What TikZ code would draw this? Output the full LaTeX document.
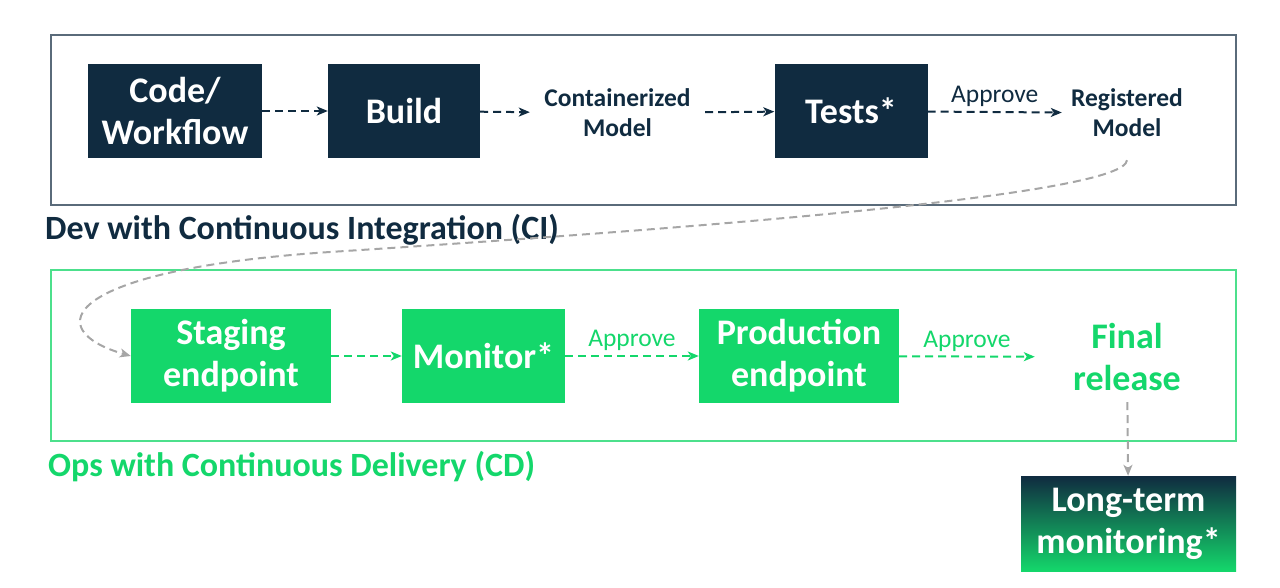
\documentclass[tikz,border=0pt]{standalone}
\usepackage{fontspec}
\setmainfont{Carlito}
\usetikzlibrary{arrows.meta, positioning}

\definecolor{navy}{HTML}{102B40}
\definecolor{mlgreen}{HTML}{14D76B}
\definecolor{devframe}{HTML}{5A6B7A}
\definecolor{opsframe}{HTML}{4CE08C}
\definecolor{flowgrey}{HTML}{A6A6A6}

\begin{document}
\begin{tikzpicture}[
    x=1pt, y=-1pt,
    box/.style={rectangle, minimum height=94pt, inner sep=0pt, align=center, text=white, font=\bfseries\fontsize{36}{42}\selectfont},
    step text/.style={rectangle, minimum height=94pt, inner sep=0pt, align=center, font=\bfseries\fontsize{25.5}{30}\selectfont},
    stage title/.style={anchor=west, inner sep=0pt, font=\bfseries\fontsize{34}{38}\selectfont},
    flow/.style={dash pattern=on 8pt off 5pt, line width=2pt, -{Stealth[length=11pt, width=9pt, inset=3pt]}},
    approve/.style={midway, above, inner sep=4pt, font=\fontsize{25.5}{28}\selectfont}
]
    \useasboundingbox (0,0) rectangle (1280,588);

    % Stage frames
    \draw[devframe, line width=1.3pt] (51,35) rectangle (1236,205);
    \draw[opsframe, line width=1.3pt] (51,270) rectangle (1236,441);
    \node[stage title, text=navy] (devtitle) at (45,230) {Dev with Continuous Integration (CI)};
    \node[stage title, text=mlgreen] (opstitle) at (48,467) {Ops with Continuous Delivery (CD)};

    % Dev stages
    \node[box, fill=navy, minimum width=174pt] (code) at (175,111) {Code/\\Workflow};
    \node[box, fill=navy, minimum width=152pt] (build) at (404,111) {Build};
    \node[step text, text=navy, minimum width=175pt] (container) at (617.5,113) {Containerized\\Model};
    \node[box, fill=navy, minimum width=153pt] (tests) at (851,111) {Tests*};
    \node[step text, text=navy, minimum width=130pt] (registered) at (1127,113) {Registered\\Model};

    % Ops stages
    \node[box, fill=mlgreen, minimum width=200pt] (staging) at (231,356) {Staging\\endpoint};
    \node[box, fill=mlgreen, minimum width=163pt] (monitor) at (483.5,356) {Monitor*};
    \node[box, fill=mlgreen, minimum width=200pt] (production) at (799,356) {Production\\endpoint};
    \node[box, text=mlgreen, minimum width=184pt, minimum height=90pt] (final) at (1127,357) {Final\\release};
    \node[box, top color=navy, bottom color=mlgreen, minimum width=215pt, minimum height=95pt] (longterm) at (1128.5,523.5) {Long-term\\monitoring*};

    % Arrows
    \draw[flow, navy] (code) -- (build);
    \draw[flow, navy] (build) -- (container);
    \draw[flow, navy] (container) -- (tests);
    \draw[flow, navy] (tests) -- node[approve, text=navy] {Approve} (registered);
    \draw[flow, mlgreen] (staging) -- (monitor);
    \draw[flow, mlgreen] (monitor) -- node[approve, text=mlgreen] {Approve} (production);
    \draw[flow, mlgreen] (production) -- node[approve, text=mlgreen] {Approve} (final);
    \draw[flow, flowgrey] (final) -- (longterm);
    \draw[flow, flowgrey] (registered.south) .. controls (1125,195) and (700,228) .. (330,252)
        .. controls (60,270) and (40,330) .. (staging.west);
\end{tikzpicture}
\end{document}
